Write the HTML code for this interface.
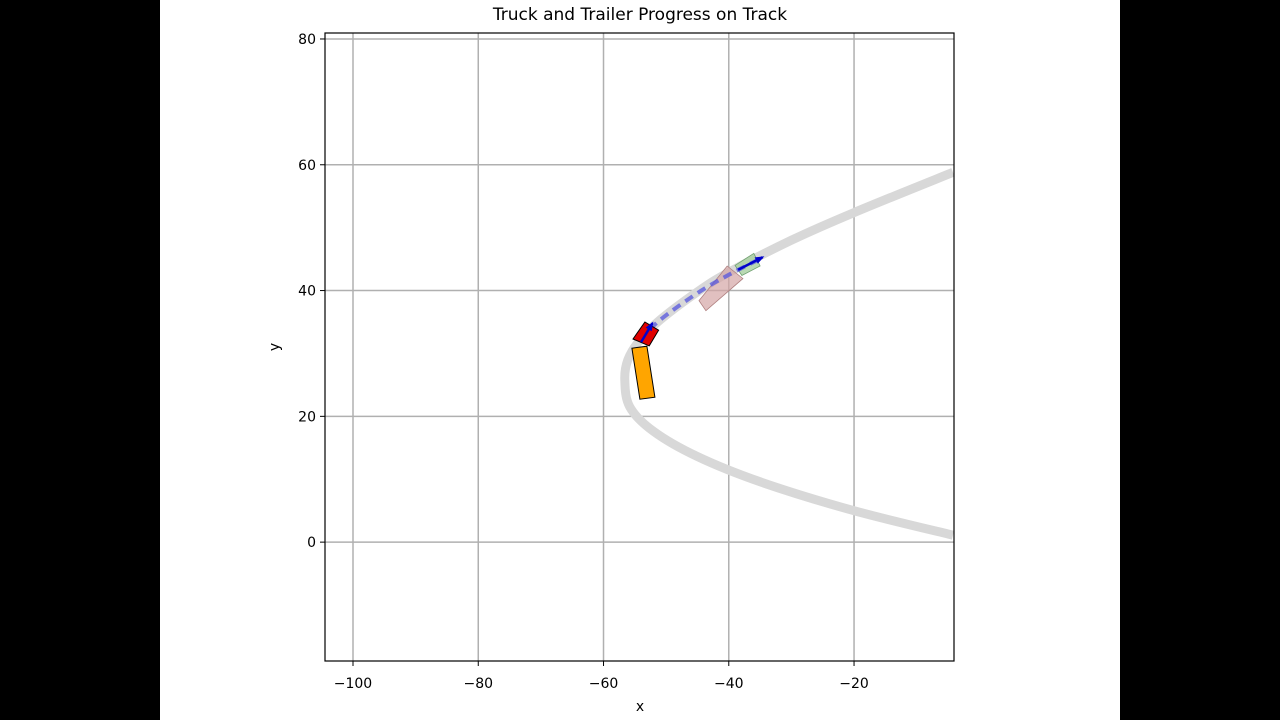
<!DOCTYPE html>
<html><head><meta charset="utf-8"><style>
body{margin:0;background:#000;}
#wrap{position:absolute;left:160px;top:0;width:960px;height:720px;background:#fff;}
svg text{font-family:"DejaVu Sans","Liberation Sans",sans-serif;font-size:14px;fill:#000;}
</style></head><body>
<div id="wrap"></div>
<svg id="chart" width="1280" height="720" style="position:absolute;left:0;top:0"></svg>
<script>
const xTicks=[-100,-80,-60,-40,-20];
const yTicks=[0,20,40,60,80];
const trackX=[-4.2,-20.0,-30.0,-40.0,-45.0,-51.0,-54.2,-56.1,-56.6,-55.8,-52.0,-45.0,-35.0,-20.0,-4.2];
const trackY=[58.8,52.4,48.0,42.9,39.8,35.3,32.1,29.0,25.8,21.5,17.6,13.6,9.6,5.0,1.1];
const trailer=[[-55.47,30.84],[-53.07,31.16],[-51.8,23.05],[-54.19,22.73]];
const truck=[[-55.3,32.3],[-53.4,35.0],[-51.2,33.7],[-52.7,31.2]];
const ghostTrailer=[[-44.75,38.4],[-40.25,43.9],[-37.75,41.9],[-43.65,36.8]];
const ghostTruck=[[-39.0,44.0],[-36.0,45.9],[-35.0,43.9],[-37.9,42.4]];
const planPath=[[-54.2,32.1],[-51.0,35.3],[-45.0,39.6],[-40.0,42.5],[-35.5,44.8]];
const arrows=[[[-38.5,43.3],[-34.6,45.3]],[[-54.0,31.8],[-52.2,34.8]]];

const X0=-104.47,X1=-4.04,Y0=-18.9,Y1=80.95;
const L=325,R=954,T=33,B=661;
const sx=v=>L+(v-X0)/(X1-X0)*(R-L);
const sy=v=>B-(v-Y0)/(Y1-Y0)*(B-T);
const svg=document.getElementById('chart');
const NS='http://www.w3.org/2000/svg';
function mk(tag,attrs,name,parent){const e=document.createElementNS(NS,tag);for(const k in attrs)e.setAttribute(k,attrs[k]);


(parent||svg).appendChild(e);return e;}
const pts=a=>a.map(p=>sx(p[0]).toFixed(1)+','+sy(p[1]).toFixed(1)).join(' ');
function smooth(P){let d='M'+P[0][0]+','+P[0][1];for(let i=0;i<P.length-1;i++){const p0=P[Math.max(0,i-1)],p1=P[i],p2=P[i+1],p3=P[Math.min(P.length-1,i+2)];
d+=' C'+(p1[0]+(p2[0]-p0[0])/6).toFixed(1)+','+(p1[1]+(p2[1]-p0[1])/6).toFixed(1)+' '+(p2[0]-(p3[0]-p1[0])/6).toFixed(1)+','+(p2[1]-(p3[1]-p1[1])/6).toFixed(1)+' '+p2[0].toFixed(1)+','+p2[1].toFixed(1);}return d;}
mk('rect',{x:L,y:T,width:R-L,height:B-T,fill:'#fff'},'plot-area');
xTicks.forEach(v=>{mk('line',{x1:sx(v),x2:sx(v),y1:T,y2:B,stroke:'#b0b0b0','stroke-width':1.5},'x-grid-line');
mk('line',{x1:sx(v),x2:sx(v),y1:B,y2:B+5,stroke:'#000'},'x-tick');
const t=mk('text',{x:sx(v),y:B+27,'text-anchor':'middle'},'x-tick-label');t.textContent=String(v).replace('-','\u2212');});
yTicks.forEach(v=>{mk('line',{x1:L,x2:R,y1:sy(v),y2:sy(v),stroke:'#b0b0b0','stroke-width':1.5},'y-grid-line');
mk('line',{x1:L-5,x2:L,y1:sy(v),y2:sy(v),stroke:'#000'},'y-tick');
const t=mk('text',{x:L-9,y:sy(v)+5,'text-anchor':'end'},'y-tick-label');t.textContent=v;});
mk('path',{d:smooth(trackX.map((x,i)=>[sx(x),sy(trackY[i])])),fill:'none',stroke:'#d8d8d8','stroke-width':9,'stroke-linecap':'butt'},'track');
mk('polygon',{points:pts(ghostTrailer),fill:'#d4a5a5','fill-opacity':0.7,stroke:'#b08080','stroke-width':0.8},'target-trailer');
mk('polygon',{points:pts(ghostTruck),fill:'#a8d0a0','fill-opacity':0.8,stroke:'#70a070','stroke-width':0.8},'target-truck');
mk('path',{d:smooth(planPath.map(p=>[sx(p[0]),sy(p[1])])),fill:'none',stroke:'#5555dd','stroke-opacity':0.75,'stroke-width':4,'stroke-dasharray':'9,6'},'planned-path');
mk('polygon',{points:pts(trailer),fill:'#ffa500',stroke:'#000','stroke-width':1},'trailer');
mk('polygon',{points:pts(truck),fill:'#e00000',stroke:'#000','stroke-width':1},'truck');
arrows.forEach(a=>{const x1=sx(a[0][0]),y1=sy(a[0][1]),x2=sx(a[1][0]),y2=sy(a[1][1]);
mk('line',{x1:x1,y1:y1,x2:x2,y2:y2,stroke:'#0000cc','stroke-width':2.5},'heading-arrow');
const ang=Math.atan2(y2-y1,x2-x1),h=8;
mk('polygon',{points:`${x2+2*Math.cos(ang)},${y2+2*Math.sin(ang)} ${x2-h*Math.cos(ang-0.45)},${y2-h*Math.sin(ang-0.45)} ${x2-h*Math.cos(ang+0.45)},${y2-h*Math.sin(ang+0.45)}`,fill:'#0000cc'},'arrow-head');});
mk('rect',{x:L,y:T,width:R-L,height:B-T,fill:'none',stroke:'#000','stroke-width':1.2},'axes-frame');
let t=mk('text',{x:640,y:20,'text-anchor':'middle',style:'font-size:17px'},'chart-title');t.textContent='Truck and Trailer Progress on Track';
t=mk('text',{x:640,y:711,'text-anchor':'middle'},'x-axis-title');t.textContent='x';
t=mk('text',{x:279,y:347,'text-anchor':'middle',transform:'rotate(-90 279 347)'},'y-axis-title');t.textContent='y';
</script></body></html>
